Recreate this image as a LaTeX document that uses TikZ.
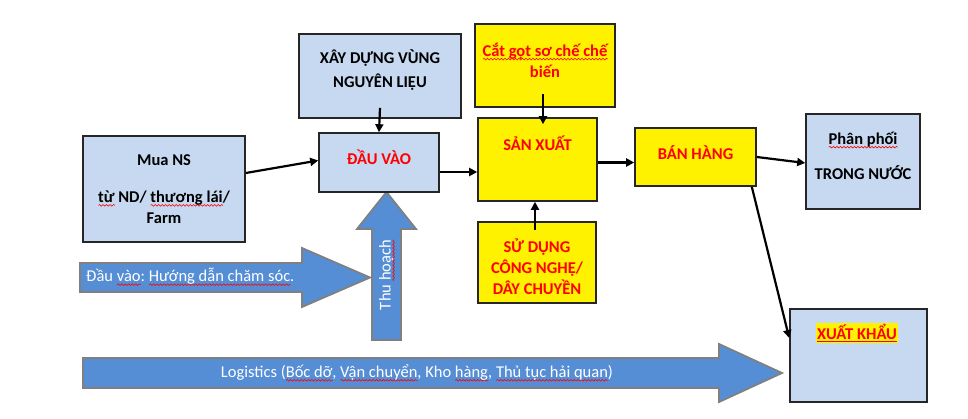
\documentclass[tikz,border=0pt]{standalone}
\usepackage{fontspec}
\setmainfont{Carlito}
\usetikzlibrary{arrows.meta,decorations.pathmorphing}
\definecolor{boxblue}{RGB}{198,217,241}
\definecolor{arrblue}{RGB}{85,142,213}
\definecolor{arrgray}{RGB}{128,128,128}
\definecolor{boxline}{RGB}{38,38,38}
\frenchspacing
\newlength\sqwlen
\newcommand\sqw[1]{\settowidth\sqwlen{#1}\rlap{\tikz[baseline=0pt]\draw[red,line width=0.6pt,decorate,
  decoration={snake,amplitude=0.8pt,segment length=3.5pt}] (0pt,-3pt) -- (\the\sqwlen,-3pt);}#1}
\begin{document}
\begin{tikzpicture}[x=1pt,y=-1pt,
  bluebox/.style={draw=boxline,line width=1.6pt,fill=boxblue,inner sep=0pt},
  yelbox/.style={draw=boxline,line width=1.6pt,fill=yellow,inner sep=0pt},
  sz/.style 2 args={minimum width=#1pt,minimum height=#2pt},
  lbl/.style={font=\fontsize{16.5}{21}\selectfont\bfseries,align=center,inner sep=0pt},
  redlbl/.style={lbl,text=red},
  arrtxt/.style={font=\fontsize{16.5}{21}\selectfont,text=white,inner sep=0pt},
  blockarr/.style={fill=arrblue,draw=arrgray,line width=1.8pt},
  link/.style={line width=2.2pt,-{Triangle[length=8pt,width=8pt]}}]
\useasboundingbox (0,0) rectangle (968,419);
% block arrows
\draw[blockarr] (80,263)--(302,263)--(302,248)--(370,277.5)--(302,307)--(302,292)--(80,292)--cycle;
\node[arrtxt,anchor=west] (dvat) at (86,277) {Đầu \sqw{vào}: \sqw{Hướng dẫn chăm sóc}.};
\draw[blockarr] (372,340)--(372,229)--(357,229)--(386.5,192)--(416,229)--(401,229)--(401,340)--cycle;
\node[arrtxt,rotate=90] (thut) at (387,275) {Thu \sqw{hoạch}};
\draw[blockarr] (83,358)--(719,358)--(719,344)--(782,373)--(719,402)--(719,388)--(83,388)--cycle;
\node[arrtxt] (logt) at (417,373) {Logistics (\sqw{Bốc dỡ}, \sqw{Vận chuyển}, Kho \sqw{hàng}, \sqw{Thủ tục hải quan})};
% boxes
\node[bluebox,sz={162}{106}] (mua) at (164,189) {};
\node[bluebox,sz={162}{84}] (xay) at (380,76) {};
\node[bluebox,sz={120}{59}] (dv) at (379,162.5) {};
\node[yelbox,sz={140}{83}] (cat) at (545,65.5) {};
\node[yelbox,sz={119}{83}] (sx) at (537.5,159.5) {};
\node[yelbox,sz={118}{81}] (sd) at (537,262.5) {};
\node[yelbox,sz={121}{58}] (bh) at (695.5,157) {};
\node[bluebox,sz={114}{95}] (pp) at (863,161.5) {};
\node[bluebox,sz={137}{93}] (xk) at (858.5,355.5) {};
\node[lbl] (muat) at (164,189) {Mua NS\\[16pt]\sqw{từ} ND/ \sqw{thương lái}/\\Farm};
\node[lbl] (xayt) at (380,70) {XÂY DỰNG VÙNG\\[3pt]NGUYÊN LIỆU};
\node[redlbl] (dvt) at (379,157) {ĐẦU VÀO};
\node[redlbl] (catt) at (545,60) {\sqw{Cắt gọt sơ chế chế}\\biến};
\node[redlbl] (sxt) at (537.5,143) {SẢN XUẤT};
\node[redlbl] (sdt) at (537,267) {SỬ DỤNG\\CÔNG NGHỆ/\\DÂY CHUYỀN};
\node[redlbl] (bht) at (695.5,153) {BÁN HÀNG};
\node[lbl] (ppt) at (863,155.5) {\sqw{Phân phối}\\[14pt]TRONG NƯỚC};
\node[redlbl,fill=yellow,inner sep=1pt] (xkt) at (857,333) {\underline{XUẤT KHẨU}};
% connectors
\draw[link] ([yshift=16pt]mua.east) -- ([yshift=2pt]dv.west);
\draw[link] ([yshift=11pt]xay.south) -- (dv.north);
\draw[link] ([yshift=-9.5pt]dv.east) -- ([yshift=-9.5pt]dv.east -| sx.west);
\draw[link] ([xshift=-2pt,yshift=14pt]cat.south) -- ([xshift=-2pt,yshift=-7pt]cat.south |- sx.north);
\draw[link] ([xshift=-2pt,yshift=-9pt]sd.north) -- ([xshift=-2pt]sd.north |- sx.south);
\draw[link] ([yshift=-3pt]sx.east) -- ([yshift=-3pt]sx.east -| bh.west);
\draw[link] (bh.east) -- ([yshift=-1.5pt]pp.west);
\draw[link] ([xshift=-5pt]bh.south east) -- ([yshift=17.5pt]xk.west);
\end{tikzpicture}
\end{document}
